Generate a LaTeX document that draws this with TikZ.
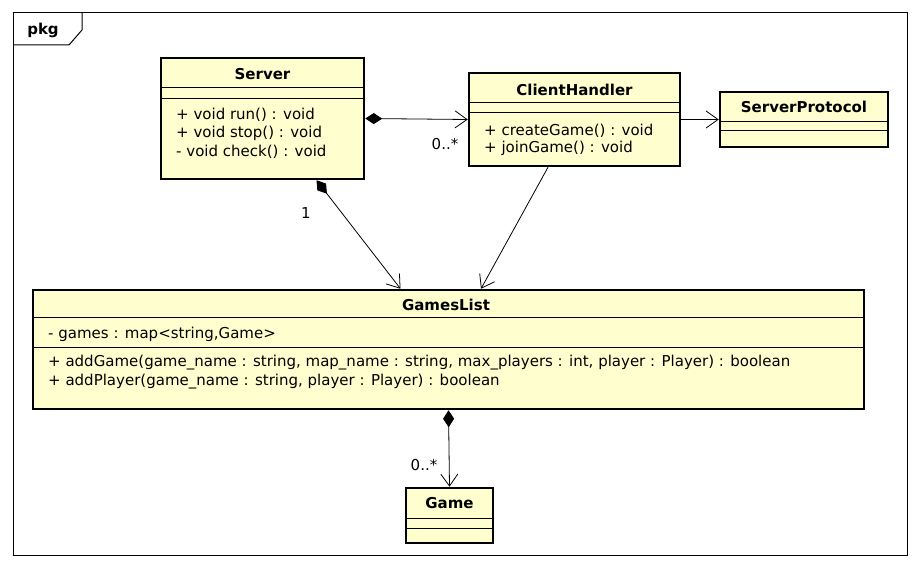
\documentclass[tikz,border=0pt]{standalone}
\usepackage{fontspec}
\setmainfont{DejaVu Sans}
\usetikzlibrary{arrows.meta}
\definecolor{classfill}{HTML}{FEFECE}
\begin{document}
\begin{tikzpicture}[x=1pt,y=-1pt,
  classbox/.style={draw, line width=2.5pt, fill=classfill, inner sep=0pt},
  cname/.style={font=\fontsize{15}{18}\selectfont\bfseries, inner sep=0pt},
  member/.style={font=\fontsize{15}{18}\selectfont, anchor=west, inner sep=0pt},
  mult/.style={font=\fontsize{15}{18}\selectfont, inner sep=0pt},
  sep/.style={line width=1pt},
  comp/.style={line width=0.8pt, {Diamond[length=17pt,width=11pt]}-{Straight Barb[length=12pt,width=17pt]}},
  assoc/.style={line width=0.8pt, -{Straight Barb[length=12pt,width=17pt]}}]

\useasboundingbox (0,0) rectangle (921,569);

% package frame
\draw[line width=1pt] (13,13) rectangle (907,555);
\draw[line width=1pt] (13,45) -- (69,45) -- (82,30) -- (82,13);
\node[cname] (pkg) at (43,30) {pkg};

% Server
\node[classbox, minimum width=203pt, minimum height=121pt] (server) at (262.5,118.5) {};
\node[cname] (servername) at (262.5,74) {Server};
\draw[sep] (161,88) -- (364,88);
\draw[sep] (161,99) -- (364,99);
\node[member] (serverrun) at (176,115) {+ void run() : void};
\node[member] (serverstop) at (176,133) {+ void stop() : void};
\node[member] (servercheck) at (176,152) {- void check() : void};

% ClientHandler
\node[classbox, minimum width=211pt, minimum height=93pt] (ch) at (574.5,119.5) {};
\node[cname] (chname) at (574.5,90) {ClientHandler};
\draw[sep] (469,103) -- (680,103);
\draw[sep] (469,113) -- (680,113);
\node[member] (chcreate) at (484,131) {+ createGame() : void};
\node[member] (chjoin) at (484,148) {+ joinGame() : void};

% ServerProtocol
\node[classbox, minimum width=168pt, minimum height=55pt] (sp) at (804,119.5) {};
\node[cname] (spname) at (804,107) {ServerProtocol};
\draw[sep] (720,122) -- (888,122);
\draw[sep] (720,131) -- (888,131);

% GamesList
\node[classbox, minimum width=831pt, minimum height=119pt] (gl) at (448.5,349.5) {};
\node[cname] (glname) at (446,305) {GamesList};
\draw[sep] (33,318) -- (864,318);
\draw[sep] (33,347) -- (864,347);
\node[member] (glgames) at (48,334) {- games : map<string,Game>};
\node[member] (gladdgame) at (48,363) {+ addGame(game\_name : string, map\_name : string, max\_players : int, player : Player) : boolean};
\node[member] (gladdplayer) at (48,382) {+ addPlayer(game\_name : string, player : Player) : boolean};

% Game
\node[classbox, minimum width=87pt, minimum height=55pt] (game) at (449.5,515.5) {};
\node[cname] (gamename) at (449.5,503) {Game};
\draw[sep] (406,518) -- (493,518);
\draw[sep] (406,528) -- (493,528);

% relations
\draw[comp] (server.east) -- (ch.west);
\node[mult] (m1) at (445,144) {0..*};
\draw[assoc] (ch.east) -- (sp.west);
\draw[comp] ([xshift=54pt]server.south) -- ([xshift=-48pt]gl.north);
\node[mult] (m2) at (306,213) {1};
\draw[assoc] ([xshift=-26.5pt]ch.south) -- ([xshift=32.5pt]gl.north);
\draw[comp] (gl.south) -- (game.north);
\node[mult] (m3) at (424,465) {0..*};
\end{tikzpicture}
\end{document}
